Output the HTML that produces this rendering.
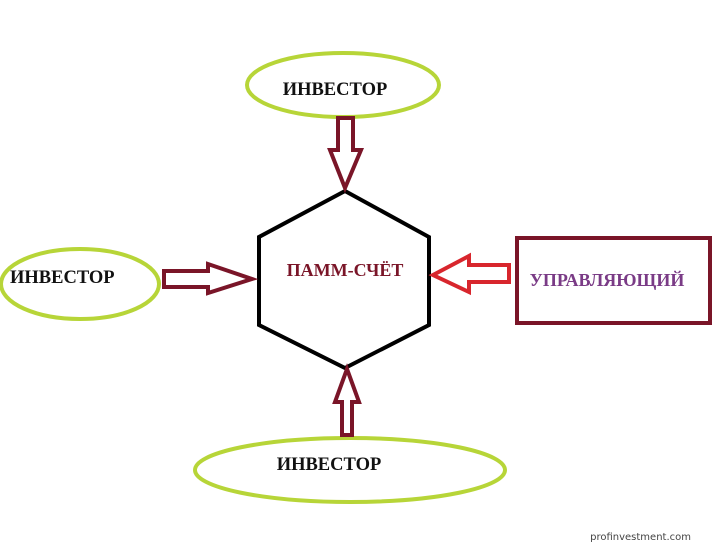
<!DOCTYPE html>
<html><head><meta charset="utf-8"><style>
html,body{margin:0;padding:0;background:#fff;width:719px;height:547px;overflow:hidden}
svg{display:block}
</style></head><body>
<svg width="719" height="547" viewBox="0 0 719 547" xmlns="http://www.w3.org/2000/svg">
<g fill="none" stroke="#b7d538" stroke-width="4">
<ellipse cx="343" cy="85" rx="96" ry="32"/>
<ellipse cx="80" cy="284" rx="79" ry="35"/>
<ellipse cx="350" cy="470" rx="155" ry="32"/>
</g>
<polygon points="345,191 429,237 429,325 345,368 259,325 259,237" fill="none" stroke="#000" stroke-width="4" stroke-linejoin="miter"/>
<rect x="517" y="238" width="193" height="85" fill="none" stroke="#7a1528" stroke-width="4"/>
<g fill="#fff" stroke="#7a1528" stroke-width="4" stroke-linejoin="miter">
<polygon points="338,118 353,118 353,150 361,150 345,188 330,150 338,150"/>
<polygon points="164,271 208,271 208,264 252,279 208,293 208,287 164,287"/>
<polygon points="342,435 352,435 352,402 359,402 347,369 335,402 342,402"/>
</g>
<polygon points="509,265 469,265 469,256 433,275 469,292 469,282 509,282" fill="#fff" stroke="#d8262d" stroke-width="4"/>
<g font-family="Liberation Serif, serif" font-weight="bold" font-size="18.5" fill="#111">
<text x="335" y="95" text-anchor="middle">ИНВЕСТОР</text>
<text x="10" y="283">ИНВЕСТОР</text>
<text x="329" y="470" text-anchor="middle">ИНВЕСТОР</text>
</g>
<text x="345" y="276" text-anchor="middle" font-family="Liberation Serif, serif" font-weight="bold" font-size="18" fill="#7a1528">ПАММ-СЧЁТ</text>
<text x="607" y="286" text-anchor="middle" font-family="Liberation Serif, serif" font-weight="bold" font-size="18" fill="#7a3b86">УПРАВЛЯЮЩИЙ</text>
<text x="691" y="540" text-anchor="end" font-family="DejaVu Sans, sans-serif" font-size="10" fill="#444">profinvestment.com</text>
</svg>
</body></html>
